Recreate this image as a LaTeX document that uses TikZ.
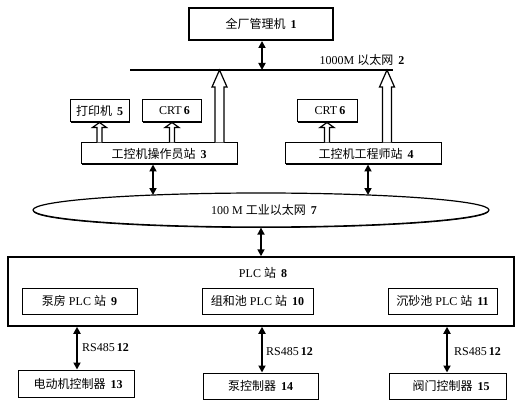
\documentclass[tikz,border=0pt]{standalone}
\usepackage{fontspec}
\setmainfont{Liberation Serif}
\newfontfamily\cjkf{Noto Sans CJK SC}
\usetikzlibrary{arrows.meta,shadows,calc,shapes.geometric}
\newcommand\zh[1]{{\cjkf #1}}
\newcommand\num[1]{\,\textbf{#1}}
% hollow arrow: x, from (anchor), to (anchor), shaft half, head half, head length
\newcommand\harrow[6]{%
  \draw[hol] ($(#1,0 |- #2)+(-#4,0)$) -- ($(#1,0 |- #3)+(-#4,#6)$) -- ($(#1,0 |- #3)+(-#5,#6)$)
    -- (#1,0 |- #3) -- ($(#1,0 |- #3)+(#5,#6)$) -- ($(#1,0 |- #3)+(#4,#6)$) -- ($(#1,0 |- #2)+(#4,0)$);}
\begin{document}
\begin{tikzpicture}[x=1pt,y=-1pt,font=\fontsize{12}{14}\selectfont,
  box/.style={draw,line width=1pt,fill=white,inner sep=0pt,
    drop shadow={shadow xshift=1pt,shadow yshift=-1pt,fill=black,opacity=1}},
  dbl/.style={line width=1.7pt,{Triangle[length=7pt,width=7pt]}-{Triangle[length=7pt,width=7pt]}},
  hol/.style={line width=1.2pt,fill=white,line join=miter}]
\useasboundingbox (0,0) rectangle (524,406);

% top
\node[draw,line width=2pt,fill=white,minimum width=144,minimum height=32,inner sep=0pt] (top) at (261,24) {\zh{全厂管理机}\ \num{1}};
\coordinate (lineL) at (130,70);
\coordinate (lineR) at (393,70);
\coordinate (ltop) at (262,70);
\draw[line width=1.8pt] (lineL) -- (lineR);
\node (netlbl) at (362,60) {1000M \zh{以太网}\ \num{2}};
\draw[dbl] (top.south -| ltop) -- (ltop);

% stations
\node[box,minimum width=59,minimum height=22] (prn) at (99.5,111) {\zh{打印机}\ \num{5}};
\node[box,minimum width=59,minimum height=22] (crt1) at (171.5,111) {\hspace{6pt}CRT\num{6}};
\node[box,minimum width=60,minimum height=22] (crt2) at (327,111) {\hspace{6pt}CRT\num{6}};
\node[box,minimum width=156,minimum height=21] (op) at (159,153.5) {\zh{工控机操作员站}\ \num{3}\hspace{18pt}};
\node[box,minimum width=156,minimum height=21] (eng) at (363,153.5) {\hspace{6pt}\zh{工控机工程师站}\ \num{4}};

\harrow{99.5}{op.north}{prn.south}{2.5}{7}{5}
\harrow{172}{op.north}{crt1.south}{2.5}{7}{5}
\harrow{327}{eng.north}{crt2.south}{2.5}{7}{5}
\harrow{219.5}{op.north}{lineL}{4.5}{7.5}{17}
\harrow{387}{eng.north}{lineL}{4.5}{7.5}{17}

% ethernet ellipse
\node[ellipse,draw,line width=1.2pt,fill=white,minimum width=456,minimum height=34,inner sep=0pt,
  drop shadow={shadow xshift=0pt,shadow yshift=-1pt,fill=black,opacity=1}] (el) at (261,210) {\hspace{6pt}100 M \zh{工业以太网}\ \num{7}};
\coordinate (e1) at (153,195);
\coordinate (e2) at (368,195);
\draw[dbl] (e1 |- op.south) -- (e1);
\draw[dbl] (e2 |- eng.south) -- (e2);

% PLC station
\node[box,line width=1.5pt,minimum width=506,minimum height=69] (plc) at (261,291.5) {};
\node (plclbl) at (263,273) {PLC \zh{站}\ \num{8}};
\draw[dbl] (el.south -| plc.north) -- (plc.north);
\node[box,minimum width=115,minimum height=26] (p9) at (79.5,301) {\zh{泵房} PLC \zh{站}\ \num{9}\hspace{23pt}};
\node[box,minimum width=111,minimum height=26] (p10) at (257.5,301) {\zh{组和池} PLC \zh{站}\ \num{10}};
\node[box,minimum width=109,minimum height=26] (p11) at (442.5,301) {\zh{沉砂池} PLC \zh{站}\ \num{11}\hspace{7pt}};

% controllers
\node[box,minimum width=116,minimum height=27] (c13) at (76,383.5) {\hspace{4pt}\zh{电动机控制器}\ \num{13}};
\node[box,minimum width=115,minimum height=26] (c14) at (260.5,386) {\zh{泵控制器}\ \num{14}\hspace{7pt}};
\node[box,minimum width=117,minimum height=26] (c15) at (447.5,386) {\hspace{7pt}\zh{阀门控制器}\ \num{15}};

\coordinate (b1) at (77,0);
\coordinate (b2) at (262,0);
\coordinate (b3) at (447,0);
\draw[dbl] (b1 |- plc.south) -- (b1 |- c13.north) node[pos=0.48,right,xshift=1pt] (rs1) {RS485\num{12}};
\draw[dbl] (b2 |- plc.south) -- (b2 |- c14.north) node[pos=0.55,right,xshift=0pt] (rs2) {RS485\num{12}};
\draw[dbl] (b3 |- plc.south) -- (b3 |- c15.north) node[pos=0.55,right,xshift=3pt] (rs3) {RS485\num{12}};
\end{tikzpicture}
\end{document}
